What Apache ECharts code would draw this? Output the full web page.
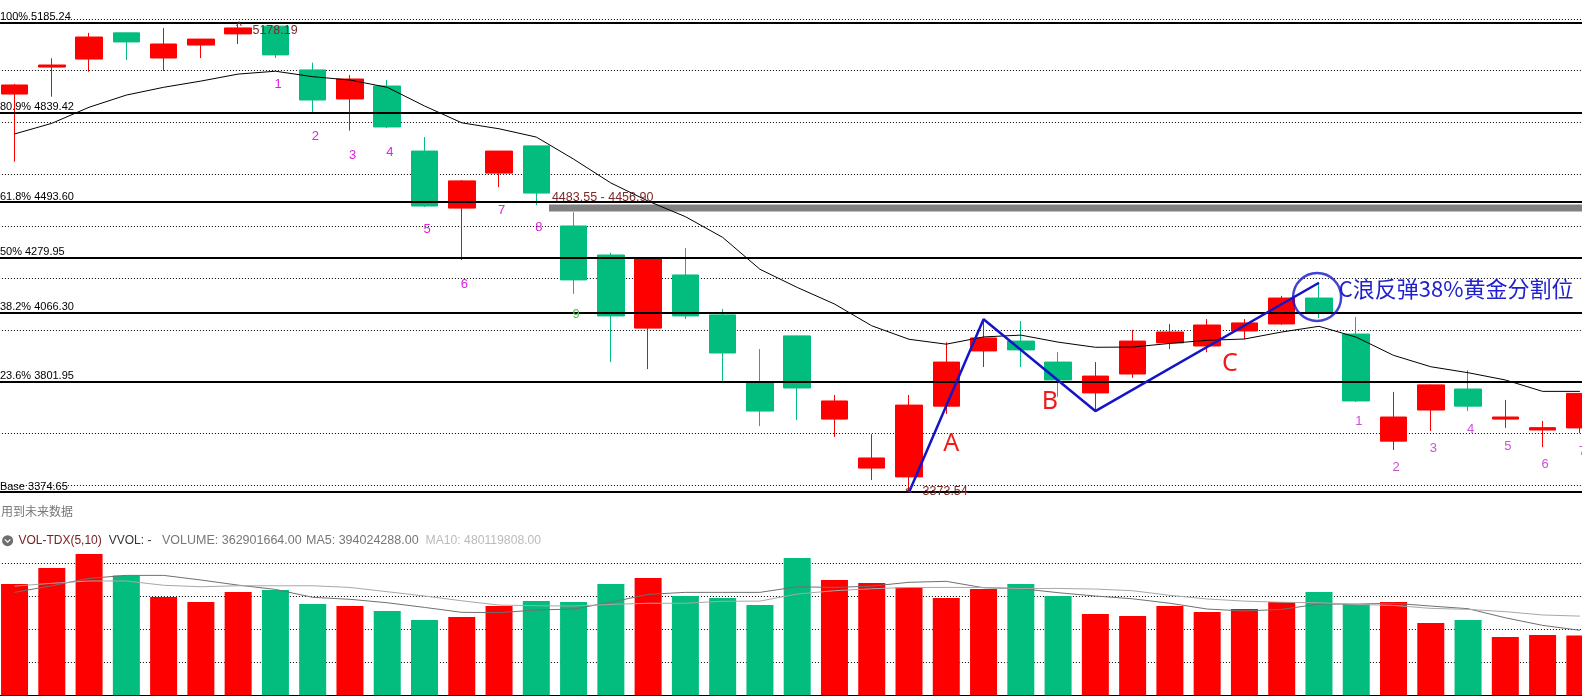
<!DOCTYPE html>
<html>
<head>
<meta charset="utf-8">
<title>K线</title>
<script src="https://cdn.jsdelivr.net/npm/echarts@6/dist/echarts.min.js"></script>
<style>
html,body{margin:0;padding:0;background:#fff;overflow:hidden;}
#main{width:1582px;height:696px;}
</style>
</head>
<body>
<div id="main"></div>
<script>
// K线 数据
var opens  = [4910,5014,5045,5146,5049,5099,5142,5172,5003,4891,4941,4690,4470,4605,4710,4401,4289,4007,4212,4058,3795,3977,3656,3467,3433,3706,3919,3957,3876,3757,3830,3950,3938,3996,4023,4123,3984,3571,3691,3772,3656,3614,3622];
var closes = [4945,5022,5130,5111,5103,5122,5165,5061,4887,4968,4783,4478,4575,4690,4528,4193,4054,4276,4054,3911,3687,3776,3726,3506,3710,3876,3969,3923,3807,3822,3957,3992,4019,4027,4123,4065,3726,3664,3788,3706,3664,3623,3755];
var highs  = [4949,5048,5146,5146,5165,5122,5178.19,5172,5031,4983,4964,4744,4578,4690,4710,4454,4298,4276,4316,4081,3926,3977,3749,3598,3749,3952,4034,4034,3915,3876,4000,4023,4042,4042,4131,4182,4050,3761,3790,3845,3730,3649,3755];
var lows   = [4649,4900,4996,5041,4999,5049,5103,5049,4841,4769,4779,4474,4270,4551,4482,4139,3876,3849,4042,3799,3629,3652,3587,3421,3373.54,3676,3857,3857,3742,3687,3815,3926,3914,3964,4019,4046,3722,3537,3610,3687,3622,3548,3602];
var maLine = [4756,4797,4859,4906,4936,4960,4987,4998,4977,4964,4936,4864,4799,4776,4744,4659,4567,4497,4437,4357,4234,4164,4100,4016,3964,3945,3973,3980,3953,3933,3934,3948,3960,3965,3992,4014,3972,3902,3858,3835,3807,3763,3763];

// 成交量(百万)
var volumes = [674,771,856,727,596,565,626,638,553,541,511,456,474,541,571,565,674,711,602,590,547,832,699,681,653,590,644,674,602,493,481,541,505,523,565,626,553,565,438,456,353,365,362.9];
var volMa5  = [624,664,709,727,727,699,668,642,594,582,561,533,503,501,517,523,564,612,624,624,624,658,654,662,685,691,652,647,622,602,585,558,523,511,521,553,553,558,541,525,470,424,394];
var volMa10 = [662,679,693,693,667,658,664,664,664,654,628,602,573,547,543,541,551,558,558,570,571,614,634,646,654,654,654,647,648,644,634,606,584,571,564,561,551,545,527,521,507,487,480];

// 黄金分割
var fibLevels = [5185.24,4839.42,4493.60,4279.95,4066.30,3801.95,3374.65];
var fibNames  = ['100% 5185.24','80.9% 4839.42','61.8% 4493.60','50% 4279.95','38.2% 4066.30','23.6% 3801.95','Base 3374.65'];

// 波浪线 ABC
var waveIdx   = [24,26,29,35];
var wavePrice = [3373.54,4041,3687,4182];

// 序号
var seqAX = [7.07,8.07,9.07,10.07,11.07,12.07,13.07,14.07];
var seqAY = [4946,4745,4672,4684,4387,4175,4461,4394];
var seqAText = ['1','2','3','4','5','6','7','8'];
var seqGreenX = [15.07], seqGreenY = [4059], seqGreenText = ['9'];
var seqBX = [36.07,37.07,38.07,39.07,40.07,41.07,42.07];
var seqBY = [3646,3470,3542,3617,3549,3482,3533];
var seqBText = ['1','2','3','4','5','6','7'];

// 价格标注
var noteX = [6.99,6.02,24.97,24,15.78];
var noteY = [5154,5169,3377,3379,4512];
var noteText = ['5178.19','^','3373.54','<','4483.55 - 4456.90'];
var letterX = [25.13,27.78,32.61];
var letterY = [3559,3724,3868];
var letterText = ['A','B','C'];
var calloutX = [38.68], calloutY = [4158], calloutText = ['C浪反弹38%黄金分割位'];
var gapTop = 4483.55, gapBottom = 4456.90, gapStart = 14.34;
var circleX = 34.95, circlePrice = 4127;

var RED = '#ff0000', GREEN = '#02bd7e', BLUE = '#1414c8';
var cats = [], candles = [], volBars = [], wave = [];
for (var i = 0; i < opens.length; i++) {
	cats.push(String(i));
	candles.push([opens[i], closes[i], lows[i], highs[i]]);
	volBars.push({value: volumes[i], itemStyle: {color: closes[i] >= opens[i] ? RED : GREEN}});
	wave.push(null);
}
for (var j = 0; j < waveIdx.length; j++) wave[waveIdx[j]] = wavePrice[j];

var fibData = [];
for (var k = 0; k < fibLevels.length; k++) fibData.push({yAxis: fibLevels[k], name: fibNames[k]});

// 文字标注用 scatter,放在隐藏的数值轴上
function textSeries(xs, ys, texts, color, font, size) {
	var d = [];
	for (var n = 0; n < xs.length; n++) d.push([xs[n], ys[n], texts[n]]);
	return {
		type: 'scatter', xAxisIndex: 2, yAxisIndex: 0, data: d, z: 8,
		symbolSize: 1, itemStyle: {color: 'rgba(0,0,0,0)'}, silent: true, clip: false,
		label: {
			show: true, position: 'inside', color: color, fontFamily: font, fontSize: size,
			textBorderWidth: 0, textBorderColor: 'transparent', opacity: 1,
			formatter: function (p) { return p.data[2]; }
		}
	};
}
var SANS = '"Liberation Sans"', CJK = '"Noto Sans CJK SC"';
var PLOT_X = -4.1, PLOT_W = 1602.6;

var chart = echarts.init(document.getElementById('main'));
var option = {
	animation: false,
	backgroundColor: '#fff',
	grid: [
		{left: PLOT_X, top: 0, width: PLOT_W, height: 537.3, outerBoundsMode: 'none'},
		{left: PLOT_X, top: 532, width: PLOT_W, height: 163.3, outerBoundsMode: 'none'}
	],
	xAxis: [
		{type: 'category', gridIndex: 0, data: cats, show: false},
		{type: 'category', gridIndex: 1, data: cats, position: 'top',
			axisLine: {show: true, lineStyle: {color: '#000', width: 1}},
			axisTick: {show: false}, axisLabel: {show: false}, splitLine: {show: false}},
		{type: 'value', gridIndex: 0, min: -0.5, max: 42.5, show: false, splitLine: {show: false}}
	],
	yAxis: [
		{type: 'value', gridIndex: 0, min: 3200, max: 5272.8, interval: 200,
			axisLine: {show: false}, axisTick: {show: false}, axisLabel: {show: false},
			splitLine: {show: true, showMinLine: false, showMaxLine: false, lineStyle: {color: '#000', width: 1, type: [1, 2]}}},
		{type: 'value', gridIndex: 1, min: 0, max: 990, interval: 200,
			axisLine: {show: false}, axisTick: {show: false}, axisLabel: {show: false},
			splitLine: {show: true, showMinLine: false, showMaxLine: false, lineStyle: {color: '#000', width: 1, type: [1, 2]}}}
	],
	series: [
		{type: 'candlestick', xAxisIndex: 0, yAxisIndex: 0, data: candles, barWidth: 27, z: 2,
			itemStyle: {color: RED, color0: GREEN, borderColor: RED, borderColor0: GREEN, borderWidth: 1}},
		{type: 'line', xAxisIndex: 0, yAxisIndex: 0, data: maLine, showSymbol: false, z: 4,
			lineStyle: {color: '#000', width: 1},
			markLine: {
				silent: true, symbol: 'none', animation: false, z: 5,
				lineStyle: {color: '#000', width: 2, type: 'solid'},
				label: {
					show: true, position: 'insideStartTop', distance: [4, 0], formatter: '{b}',
					color: '#000', fontFamily: SANS, fontSize: 11
				},
				data: fibData
			}},
		{type: 'line', xAxisIndex: 0, yAxisIndex: 0, data: wave, connectNulls: true, showSymbol: false, z: 6,
			lineStyle: {color: BLUE, width: 2.5}},
		{type: 'scatter', xAxisIndex: 2, yAxisIndex: 0, data: [[circleX, circlePrice]], z: 7, silent: true,
			symbolSize: 48, itemStyle: {color: 'rgba(0,0,0,0)', borderColor: BLUE, borderWidth: 2.5}},
		{type: 'bar', xAxisIndex: 1, yAxisIndex: 1, data: volBars, barWidth: 27, z: 2},
		{type: 'line', xAxisIndex: 1, yAxisIndex: 1, data: volMa5, showSymbol: false, z: 4,
			lineStyle: {color: '#707070', width: 1}},
		{type: 'line', xAxisIndex: 1, yAxisIndex: 1, data: volMa10, showSymbol: false, z: 4,
			lineStyle: {color: '#a8a8a8', width: 1}},
		textSeries(seqAX, seqAY, seqAText, '#e020e0', SANS, 13),
		textSeries(seqGreenX, seqGreenY, seqGreenText, '#50c050', SANS, 13),
		textSeries(seqBX, seqBY, seqBText, '#cc50d8', SANS, 13),
		textSeries(noteX, noteY, noteText, '#7a2a2a', SANS, 12.5),
		textSeries(letterX, letterY, letterText, '#ee1c1c', '"Noto Sans"', 25),
		textSeries(calloutX, calloutY, calloutText, '#2020d0', CJK, 22),
		{type: 'scatter', xAxisIndex: 2, yAxisIndex: 0, data: [], z: 3, silent: true,
			markArea: {
				silent: true, itemStyle: {color: '#808080'},
				data: [[{xAxis: gapStart, yAxis: gapTop}, {xAxis: 42.5, yAxis: gapBottom}]]
			}}
	],
	graphic: [
		{type: 'text', x: 1, y: 511.7, style: {text: '用到未来数据', font: '12px "Noto Sans CJK SC"', fill: '#777', textVerticalAlign: 'middle'}},
		{type: 'circle', shape: {cx: 7.6, cy: 540.7, r: 5.5}, style: {fill: '#6e6e6e'}},
		{type: 'polyline', shape: {points: [[4.8, 539.4], [7.6, 542.2], [10.4, 539.4]]}, style: {stroke: '#fff', lineWidth: 1.2, fill: null}},
		{type: 'text', x: 18.4, y: 540.7, style: {text: 'VOL-TDX(5,10)', font: '12px "Liberation Sans"', fill: '#7a2020', textVerticalAlign: 'middle'}},
		{type: 'text', x: 108.7, y: 540.7, style: {text: 'VVOL: -', font: '12px "Liberation Sans"', fill: '#333', textVerticalAlign: 'middle'}},
		{type: 'text', x: 162, y: 540.7, style: {text: 'VOLUME: 362901664.00', font: '12.5px "Liberation Sans"', fill: '#777', textVerticalAlign: 'middle'}},
		{type: 'text', x: 306, y: 540.7, style: {text: 'MA5: 394024288.00', font: '12.5px "Liberation Sans"', fill: '#777', textVerticalAlign: 'middle'}},
		{type: 'text', x: 425.5, y: 540.7, style: {text: 'MA10: 480119808.00', font: '12.2px "Liberation Sans"', fill: '#bbb', textVerticalAlign: 'middle'}}
	]
};
chart.setOption(option);
</script>
</body>
</html>
